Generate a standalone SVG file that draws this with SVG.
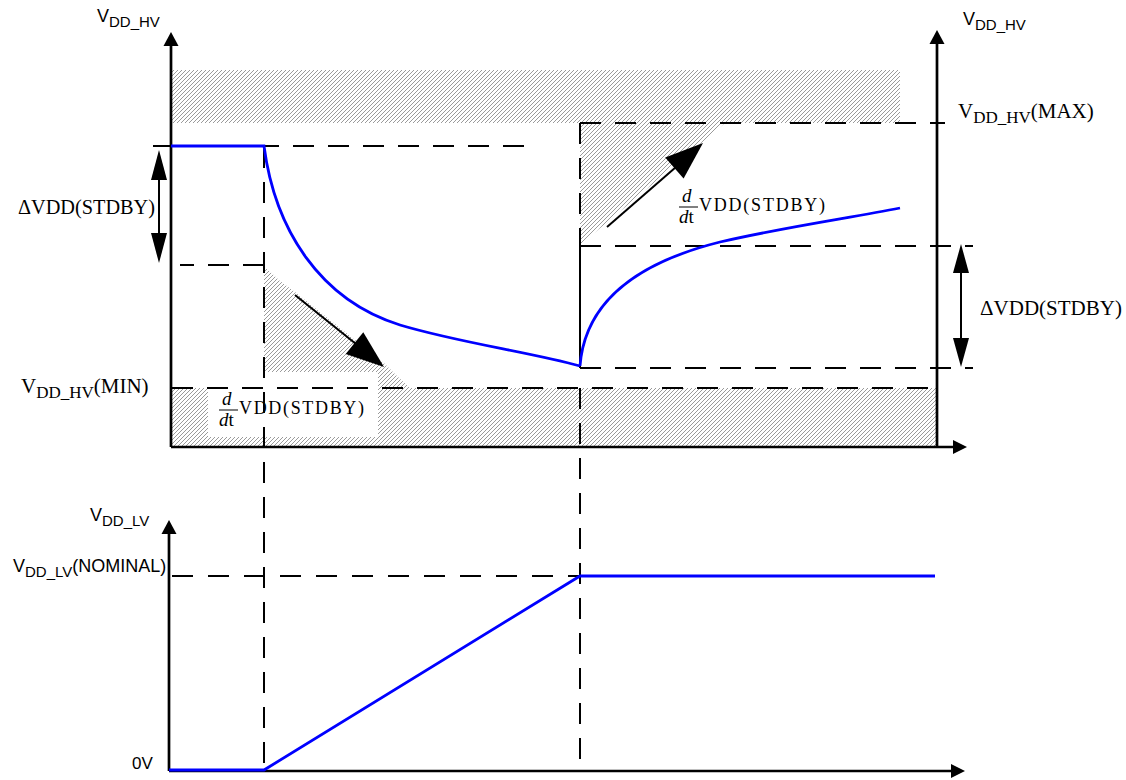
<svg xmlns="http://www.w3.org/2000/svg" width="1126" height="780" viewBox="0 0 1126 780">
<style>
.ax{stroke:#000;stroke-width:2.7;fill:none}
.ah{fill:#000;stroke:none}
.dash{stroke:#000;stroke-width:2;fill:none;stroke-dasharray:21 14}
.solid{stroke:#000;stroke-width:2;fill:none}
.blue{stroke:#0000ff;stroke-width:2.8;fill:none}
.sans{font-family:"Liberation Sans",Arial,sans-serif;fill:#000}
.serif{font-family:"Liberation Serif","Times New Roman",serif;fill:#000}
.hatch{fill:url(#hp);stroke:none}
</style>
<defs>
<pattern id="hp" patternUnits="userSpaceOnUse" width="4" height="4">
<path d="M-1,1 L1,-1 M0,4 L4,0 M3,5 L5,3" stroke="#555" stroke-width="0.6"/>
</pattern>
</defs>
<rect width="1126" height="780" fill="#fff"/>

<g id="hatching">
<rect class="hatch" x="172" y="70" width="728" height="53"/>
<polygon class="hatch" points="580,123 725,123 580,245"/>
<rect class="hatch" x="172" y="388" width="765" height="59"/>
<path class="hatch" d="M264,266 L280,281 L295,292 L385,364 L398,377 L410,388 L264,388 Z"/>
<rect x="208" y="372" width="170" height="65" fill="#fff"/>
</g>

<g id="connectors">
<line class="dash" x1="153" y1="146" x2="530" y2="146"/>
<line class="dash" x1="264" y1="265" x2="180" y2="265"/>
<line class="dash" x1="264" y1="147" x2="264" y2="770"/>
<line class="dash" x1="580" y1="123" x2="580" y2="246"/>
<line class="solid" x1="580" y1="246" x2="580" y2="368"/>
<line class="dash" x1="580" y1="388" x2="580" y2="770"/>
<line class="dash" x1="580" y1="123" x2="945" y2="123"/>
<line class="dash" x1="580" y1="246" x2="973" y2="246"/>
<line class="dash" x1="580" y1="368" x2="973" y2="368"/>
<line class="dash" x1="172" y1="388" x2="937" y2="388"/>
<line class="dash" x1="172" y1="576" x2="580" y2="576" style="stroke-dasharray:21 15"/>

<line class="solid" x1="159" y1="178" x2="159" y2="235"/>
<polygon class="ah" points="159,150 151,180 167,180"/>
<polygon class="ah" points="159,263 151,233 167,233"/>
<line class="solid" x1="961" y1="271" x2="961" y2="340"/>
<polygon class="ah" points="961,244 953,273 969,273"/>
<polygon class="ah" points="961,367 953,338 969,338"/>

<line class="solid" x1="607" y1="227" x2="676" y2="167"/>
<polygon class="ah" points="703,143 683.6,178.5 665.2,157.5"/>
<line class="solid" x1="295" y1="295" x2="356" y2="344"/>
<polygon class="ah" points="384,367 345.7,354 363.3,332.2"/>
</g>

<g id="axes">
<line class="ax" x1="171" y1="447" x2="171" y2="44"/>
<polygon class="ah" points="171,32 163.5,46 178.5,46"/>
<line class="ax" x1="171" y1="447" x2="955" y2="447"/>
<polygon class="ah" points="967,447 953,440 953,454"/>
<line class="ax" x1="937" y1="447" x2="937" y2="42"/>
<polygon class="ah" points="937,30 929.5,44 944.5,44"/>
<line class="ax" x1="169" y1="771" x2="169" y2="532"/>
<polygon class="ah" points="169,520 161.5,534 176.5,534"/>
<line class="ax" x1="169" y1="771" x2="953" y2="771"/>
<polygon class="ah" points="965,771 951,764 951,778"/>
</g>

<g id="curves">
<path class="blue" d="M171,146 L264,146 C275,230 320,300 400,325 C460,343 530,352 580,366"/>
<path class="blue" d="M580,366 C585,300 640,262 720,242 C790,226 850,218 900,208"/>
<path class="blue" d="M169,770 L264,770 L580,576 L935,576"/>
</g>

<g id="labels">
<text class="sans" x="97" y="22" font-size="18">V<tspan font-size="15" dy="5">DD_HV</tspan></text>
<text class="sans" x="963" y="25" font-size="18">V<tspan font-size="15" dy="5">DD_HV</tspan></text>
<text class="sans" x="90" y="521" font-size="18">V<tspan font-size="15" dy="5">DD_LV</tspan></text>
<text class="sans" x="13" y="572" font-size="18">V<tspan font-size="15" dy="5">DD_LV</tspan><tspan dy="-5">(NOMINAL)</tspan></text>
<text class="sans" x="132" y="769" font-size="17">0V</text>
<text class="serif" x="958" y="118" font-size="21">V<tspan font-size="17" dy="5">DD_HV</tspan><tspan dy="-5">(MAX)</tspan></text>
<text class="serif" x="21" y="393" font-size="21">V<tspan font-size="17" dy="5">DD_HV</tspan><tspan dy="-5">(MIN)</tspan></text>
<text class="serif" x="18" y="214" font-size="20" textLength="137" lengthAdjust="spacingAndGlyphs">ΔVDD(STDBY)</text>
<text class="serif" x="980" y="315" font-size="20" textLength="142" lengthAdjust="spacingAndGlyphs">ΔVDD(STDBY)</text>

<g id="slope-label-upper">
<text class="serif" x="682" y="202" font-size="19" font-style="italic">d</text>
<line x1="679" y1="207" x2="698" y2="207" stroke="#000" stroke-width="1"/>
<text class="serif" x="679" y="223" font-size="19"><tspan font-style="italic">d</tspan>t</text>
<text class="serif" x="699" y="211" font-size="18" textLength="126" lengthAdjust="spacing">VDD(STDBY)</text>
</g>
<g id="slope-label-lower">
<text class="serif" x="222" y="405" font-size="19" font-style="italic">d</text>
<line x1="219" y1="410" x2="238" y2="410" stroke="#000" stroke-width="1"/>
<text class="serif" x="219" y="426" font-size="19"><tspan font-style="italic">d</tspan>t</text>
<text class="serif" x="239" y="414" font-size="18" textLength="125" lengthAdjust="spacing">VDD(STDBY)</text>
</g>
</g>
</svg>
